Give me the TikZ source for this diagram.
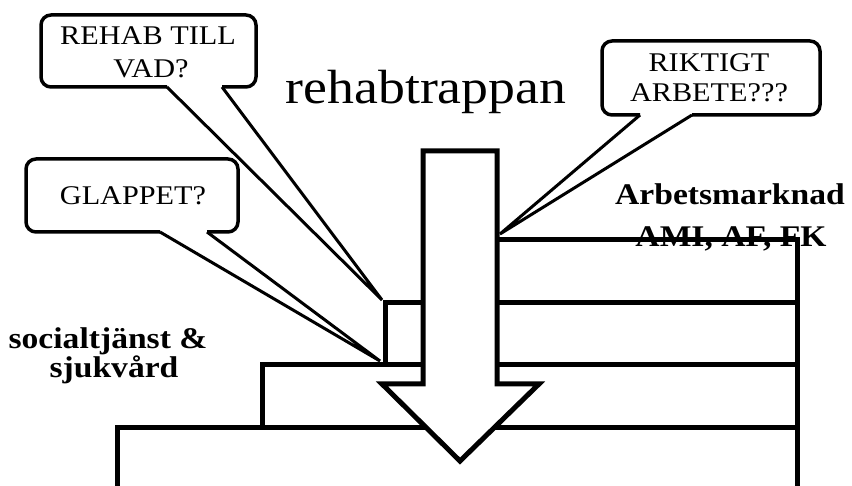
\documentclass[tikz,border=0pt]{standalone}
\usepackage{fontspec}
\setmainfont{Liberation Serif}
\usepackage{graphicx}
% text in this sheet is set slightly wide
\newcommand{\wide}[1]{\scalebox{1.12}[1]{#1}}
\tikzset{
  stair/.style={line width=5pt},
  bubble/.style={line width=3.5pt, rounded corners=10pt},
  tail/.style={line width=3pt},
  bubbletext/.style={font=\fontsize{27}{33}\selectfont, anchor=base, inner sep=0pt},
  arealabel/.style={font=\bfseries\fontsize{30}{36}\selectfont, anchor=base, inner sep=0pt},
}
\begin{document}
\begin{tikzpicture}[x=1pt,y=-1pt]
\useasboundingbox (0,0) rectangle (852,486);

% the steps of the staircase
\draw[stair] (117,492) -- (117,428) -- (797,428);
\draw[stair] (262,428) -- (262,365) -- (797,365);
\draw[stair] (385,365) -- (385,303) -- (797,303);
\draw[stair] (497,240) -- (797,240) -- (797,492);

% tips of the speech bubbles
\coordinate (rehabtip) at (382,300);
\coordinate (glapptip) at (380,361);
\coordinate (riktigtip) at (500,234);

% bubble: REHAB TILL VAD?
\draw[bubble] (222,87) -- (256,87) -- (256,15) -- (41,15) -- (41,87) -- (167,87);
\draw[tail] (167,87) -- (rehabtip) -- (222,87);
\node[bubbletext] (rehab1) at (148,45) {\wide{REHAB TILL}};
\node[bubbletext] (rehab2) at (151,78) {\wide{VAD?}};

% bubble: GLAPPET?
\draw[bubble] (207,232) -- (238,232) -- (238,159) -- (26,159) -- (26,232) -- (160,232);
\draw[tail] (160,232) -- (glapptip) -- (207,232);
\node[bubbletext] (glappet) at (133,205) {\wide{GLAPPET?}};

% bubble: RIKTIGT ARBETE???
\draw[bubble] (692,115) -- (820,115) -- (820,41) -- (602,41) -- (602,115) -- (640,115);
\draw[tail] (640,115) -- (riktigtip) -- (692,115);
\node[bubbletext] (riktigt1) at (709,72) {\wide{RIKTIGT}};
\node[bubbletext] (riktigt2) at (709,102) {\wide{ARBETE???}};

% title
\node[anchor=base, inner sep=0pt, font=\fontsize{48}{56}\selectfont] (title) at (426,104) {\wide{rehabtrappan}};

% area labels
\node[arealabel] (arb1) at (730,205) {\wide{Arbetsmarknad}};
\node[arealabel] (arb2) at (731,247) {\wide{AMI, AF, FK}};
\node[arealabel] (soc1) at (108,349) {\wide{socialtjänst \&}};
\node[arealabel] (soc2) at (114,378) {\wide{sjukvård}};

% the line through the label runs over the text
\draw[stair] (600,240) -- (797,240);

% the big downward arrow
\draw[stair, fill=white] (423,151) -- (497,151) -- (497,384) -- (539,384)
  -- (460,461) -- (382,384) -- (423,384) -- cycle;
\end{tikzpicture}
\end{document}
